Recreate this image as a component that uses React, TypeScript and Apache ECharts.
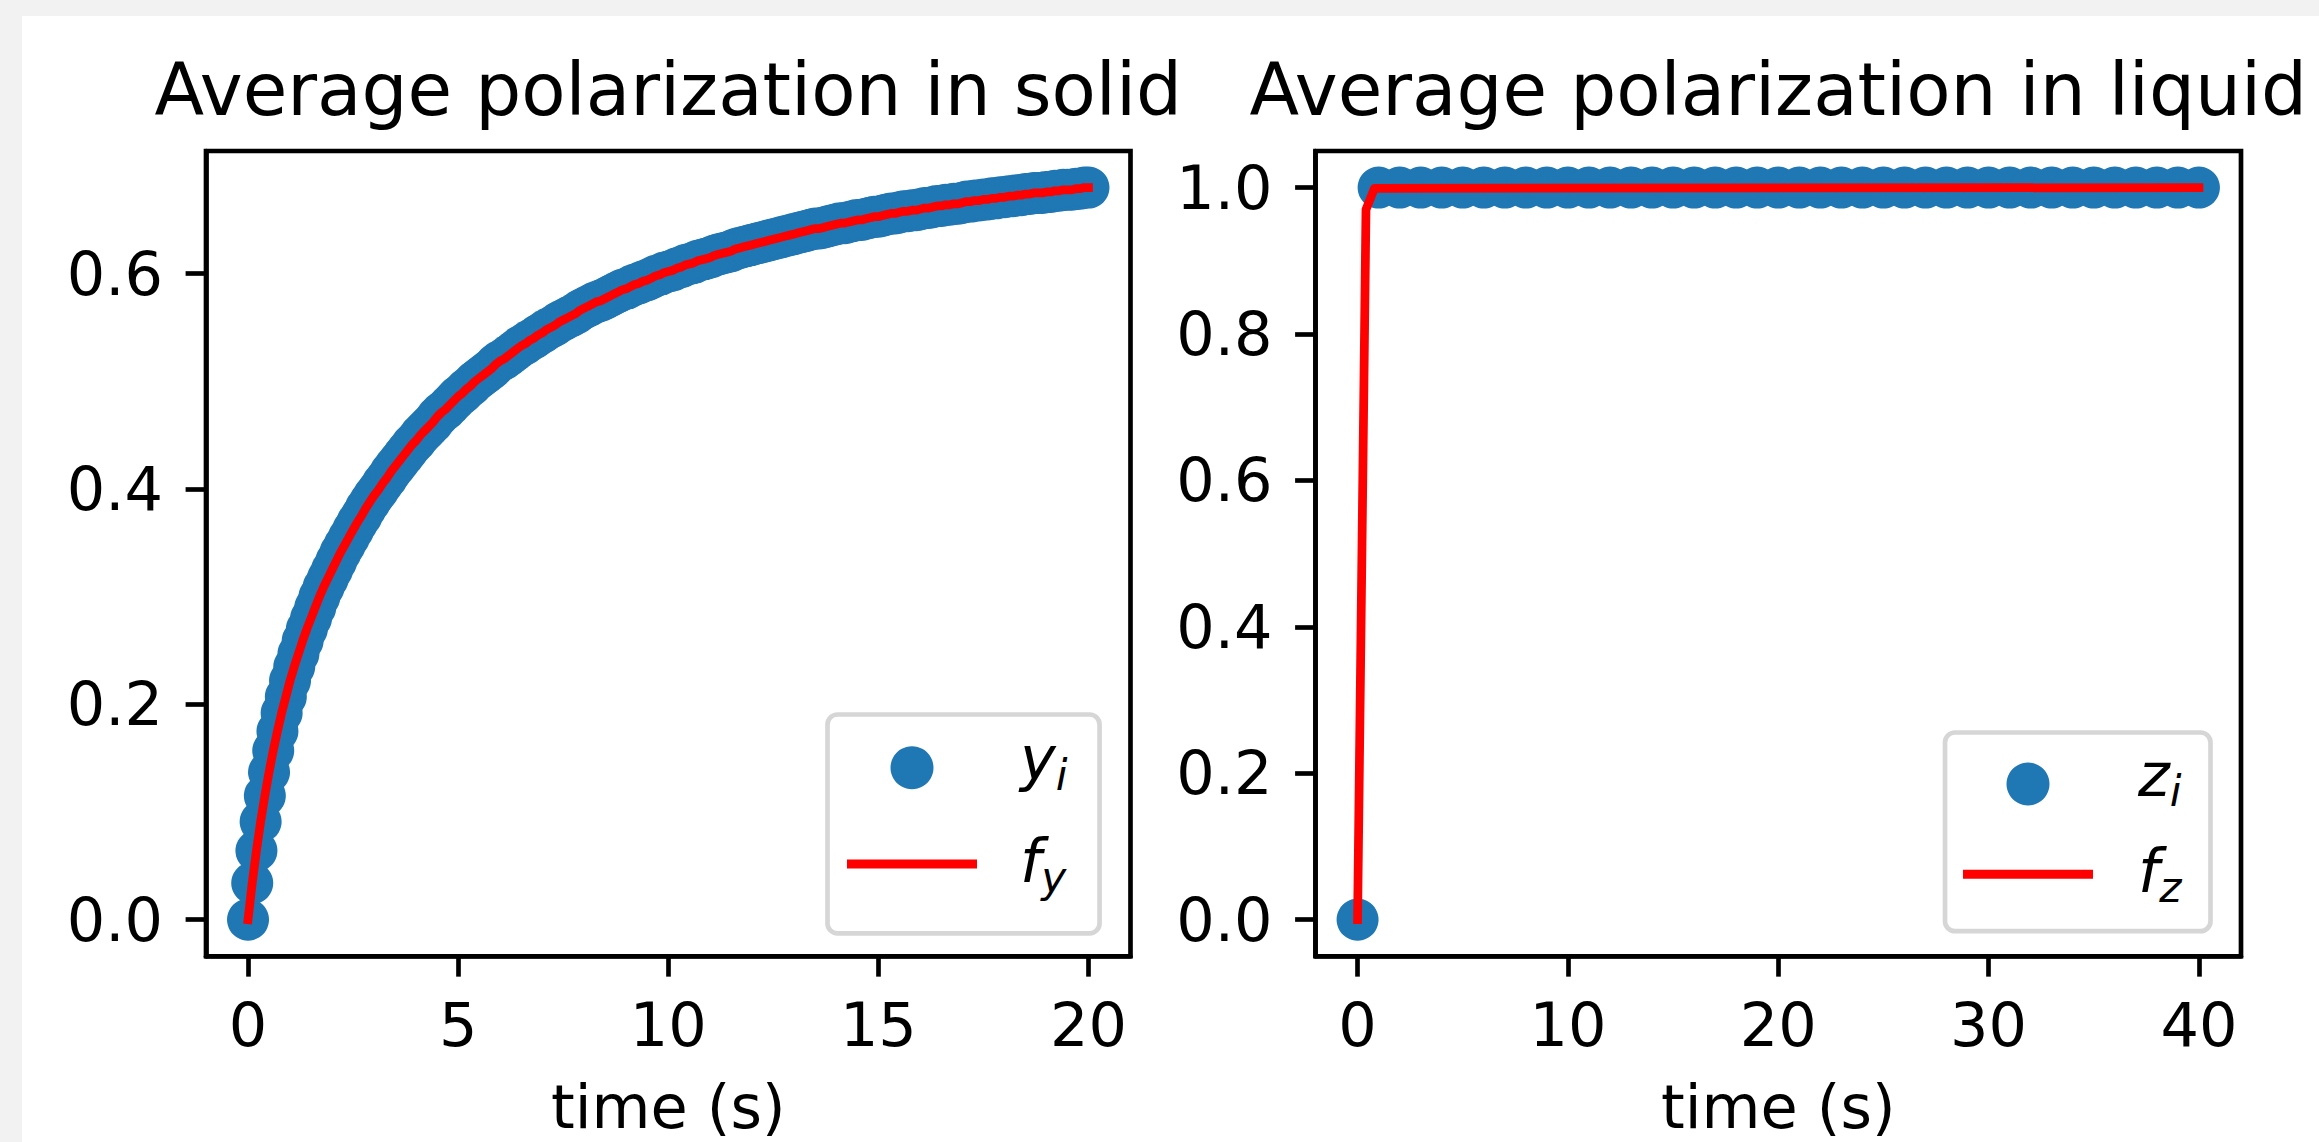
import React, { useEffect, useRef } from "react";
import * as echarts from "echarts";

// ---------- data ----------
const solidTime = [
  0, 0.1, 0.2, 0.3, 0.4, 0.5, 0.6, 0.7, 0.8, 0.9,
  1, 1.1, 1.2, 1.3, 1.4, 1.5, 1.6, 1.7, 1.8, 1.9,
  2, 2.1, 2.2, 2.3, 2.4, 2.5, 2.6, 2.7, 2.8, 2.9,
  3, 3.1, 3.2, 3.3, 3.4, 3.5, 3.6, 3.7, 3.8, 3.9,
  4, 4.1, 4.2, 4.3, 4.4, 4.5, 4.6, 4.7, 4.8, 4.9,
  5, 5.1, 5.2, 5.3, 5.4, 5.5, 5.6, 5.7, 5.8, 5.9,
  6, 6.1, 6.2, 6.3, 6.4, 6.5, 6.6, 6.7, 6.8, 6.9,
  7, 7.1, 7.2, 7.3, 7.4, 7.5, 7.6, 7.7, 7.8, 7.9,
  8, 8.1, 8.2, 8.3, 8.4, 8.5, 8.6, 8.7, 8.8, 8.9,
  9, 9.1, 9.2, 9.3, 9.4, 9.5, 9.6, 9.7, 9.8, 9.9,
  10, 10.1, 10.2, 10.3, 10.4, 10.5, 10.6, 10.7, 10.8, 10.9,
  11, 11.1, 11.2, 11.3, 11.4, 11.5, 11.6, 11.7, 11.8, 11.9,
  12, 12.1, 12.2, 12.3, 12.4, 12.5, 12.6, 12.7, 12.8, 12.9,
  13, 13.1, 13.2, 13.3, 13.4, 13.5, 13.6, 13.7, 13.8, 13.9,
  14, 14.1, 14.2, 14.3, 14.4, 14.5, 14.6, 14.7, 14.8, 14.9,
  15, 15.1, 15.2, 15.3, 15.4, 15.5, 15.6, 15.7, 15.8, 15.9,
  16, 16.1, 16.2, 16.3, 16.4, 16.5, 16.6, 16.7, 16.8, 16.9,
  17, 17.1, 17.2, 17.3, 17.4, 17.5, 17.6, 17.7, 17.8, 17.9,
  18, 18.1, 18.2, 18.3, 18.4, 18.5, 18.6, 18.7, 18.8, 18.9,
  19, 19.1, 19.2, 19.3, 19.4, 19.5, 19.6, 19.7, 19.8, 19.9,
  20,
];

const solidPolarization = [
  0.0, 0.034, 0.064, 0.091, 0.115, 0.137, 0.157, 0.175, 0.192, 0.207,
  0.222, 0.235, 0.247, 0.259, 0.27, 0.28, 0.29, 0.3, 0.309, 0.317,
  0.325, 0.333, 0.341, 0.348, 0.355, 0.362, 0.369, 0.375, 0.382, 0.388,
  0.394, 0.399, 0.405, 0.41, 0.416, 0.421, 0.426, 0.431, 0.436, 0.441,
  0.445, 0.45, 0.454, 0.458, 0.462, 0.467, 0.471, 0.474, 0.478, 0.482,
  0.486, 0.489, 0.493, 0.496, 0.5, 0.503, 0.506, 0.509, 0.512, 0.516,
  0.519, 0.521, 0.524, 0.527, 0.53, 0.533, 0.535, 0.538, 0.54, 0.543,
  0.545, 0.548, 0.55, 0.552, 0.555, 0.557, 0.559, 0.561, 0.563, 0.566,
  0.568, 0.57, 0.572, 0.574, 0.575, 0.577, 0.579, 0.581, 0.583, 0.585,
  0.586, 0.588, 0.59, 0.591, 0.593, 0.594, 0.596, 0.598, 0.599, 0.601,
  0.602, 0.603, 0.605, 0.606, 0.608, 0.609, 0.61, 0.612, 0.613, 0.614,
  0.615, 0.617, 0.618, 0.619, 0.62, 0.621, 0.623, 0.624, 0.625, 0.626,
  0.627, 0.628, 0.629, 0.63, 0.631, 0.632, 0.633, 0.634, 0.635, 0.636,
  0.637, 0.638, 0.639, 0.64, 0.641, 0.642, 0.642, 0.643, 0.644, 0.645,
  0.646, 0.647, 0.647, 0.648, 0.649, 0.65, 0.65, 0.651, 0.652, 0.653,
  0.653, 0.654, 0.655, 0.656, 0.656, 0.657, 0.658, 0.658, 0.659, 0.659,
  0.66, 0.661, 0.661, 0.662, 0.663, 0.663, 0.664, 0.664, 0.665, 0.665,
  0.666, 0.667, 0.667, 0.668, 0.668, 0.669, 0.669, 0.67, 0.67, 0.671,
  0.671, 0.672, 0.672, 0.673, 0.673, 0.674, 0.674, 0.675, 0.675, 0.675,
  0.676, 0.676, 0.677, 0.677, 0.678, 0.678, 0.678, 0.679, 0.679, 0.68,
  0.68,
];

const liquidTime = [
  0, 1, 2, 3, 4, 5, 6, 7, 8, 9, 10, 11, 12, 13, 14, 15, 16, 17, 18, 19, 20,
  21, 22, 23, 24, 25, 26, 27, 28, 29, 30, 31, 32, 33, 34, 35, 36, 37, 38, 39, 40,
];
const liquidPolarization = [
  0, 1, 1, 1, 1, 1, 1, 1, 1, 1, 1, 1, 1, 1, 1, 1, 1, 1, 1, 1, 1,
  1, 1, 1, 1, 1, 1, 1, 1, 1, 1, 1, 1, 1, 1, 1, 1, 1, 1, 1, 1,
];
const liquidFitTime = [0, 0.4, 0.8, 40];
const liquidFitValues = [0, 0.97, 0.999, 1];

const solidTicksX = [0, 5, 10, 15, 20];
const solidTicksY = [0, 0.2, 0.4, 0.6];
const liquidTicksX = [0, 10, 20, 30, 40];
const liquidTicksY = [0, 0.2, 0.4, 0.6, 0.8, 1.0];

const titles = ["Average polarization in solid", "Average polarization in liquid"];
const xAxisLabel = "time (s)";
const seriesNames = ["y_i", "f_y", "z_i", "f_z"];

// ---------- styling ----------
const OX = 22;
const OY = 16;
const FONT = '"DejaVu Sans", sans-serif';
const FS = 60.5;
const TITLE_FS = 72.5;
const SUB_FS = 42.3;
const BLUE = "#1f77b4";
const RED = "#ff0000";
const LINE_ICON = "path://M0,0H130V9H0Z";

const legendRich = {
  m: { fontSize: FS, fontFamily: FONT, fontStyle: "italic", lineHeight: 34.6, height: 34.6, verticalAlign: "top", color: "#000" },
  s: { fontSize: SUB_FS, fontFamily: FONT, fontStyle: "italic", lineHeight: 2, height: 2, verticalAlign: "bottom", color: "#000" },
};

const legendFormatter = (name: string) => {
  const [a, b] = name.split("_");
  return `{m|${a}}{s|${b}}`;
};

function makeXAxis(gridIndex: number, min: number, max: number, ticks: number[]) {
  return {
    gridIndex,
    type: "value",
    min,
    max,
    splitLine: { show: false },
    axisLine: { show: true, onZero: false, lineStyle: { color: "#000", width: 4.67 } },
    axisTick: { show: true, inside: false, length: 20.4, customValues: ticks, lineStyle: { color: "#000", width: 4.67 } },
    axisLabel: {
      customValues: ticks,
      margin: 38,
      color: "#000",
      fontSize: FS,
      fontFamily: FONT,
      lineHeight: FS,
    },
    name: xAxisLabel,
    nameLocation: "middle",
    nameGap: 120,
    nameTextStyle: { color: "#000", fontSize: FS, fontFamily: FONT, lineHeight: FS },
  };
}

function makeYAxis(gridIndex: number, min: number, max: number, ticks: number[]) {
  return {
    gridIndex,
    type: "value",
    min,
    max,
    splitLine: { show: false },
    axisLine: { show: true, onZero: false, lineStyle: { color: "#000", width: 4.67 } },
    axisTick: { show: true, inside: false, length: 20.4, customValues: ticks, lineStyle: { color: "#000", width: 4.67 } },
    axisLabel: {
      customValues: ticks,
      margin: 43,
      color: "#000",
      fontSize: FS,
      fontFamily: FONT,
      lineHeight: FS,
      formatter: (v: number) => v.toFixed(1),
    },
  };
}

function makeLegend(left: number, top: number, gap: number, padding: number[], textLeft: number, names: string[]) {
  return {
    orient: "vertical",
    left: left - OX,
    top: top - OY,
    itemWidth: 130,
    itemHeight: 43,
    itemGap: gap,
    padding,
    backgroundColor: "#fff",
    borderColor: "#d6d6d6",
    borderWidth: 4.67,
    borderRadius: 10,
    selectedMode: false,
    formatter: legendFormatter,
    textStyle: { color: "#000", fontFamily: FONT, fontSize: FS, rich: legendRich },
    data: [
      { name: names[0], icon: "circle", itemStyle: { color: BLUE, borderWidth: 0 }, textStyle: { padding: [0, 0, 17.8, textLeft] } },
      { name: names[1], icon: LINE_ICON, itemStyle: { color: RED, borderWidth: 0 }, textStyle: { padding: [0, 0, 5.8, textLeft] } },
    ],
  };
}

function buildOption() {
  const solidPoints = solidTime.map((t, i) => [t, solidPolarization[i]]);
  const liquidPoints = liquidTime.map((t, i) => [t, liquidPolarization[i]]);
  const liquidFit = liquidFitTime.map((t, i) => [t, liquidFitValues[i]]);

  const titleStyle = { color: "#000", fontSize: TITLE_FS, fontWeight: "normal", fontFamily: FONT };
  const titleY = 115 - 0.346 * TITLE_FS - OY;

  return {
    animation: false,
    backgroundColor: "#ffffff",
    title: [
      { text: titles[0], left: 668.25 - OX, top: titleY, textAlign: "center", textVerticalAlign: "middle", padding: 0, textStyle: titleStyle },
      { text: titles[1], left: 1778.25 - OX, top: titleY, textAlign: "center", textVerticalAlign: "middle", padding: 0, textStyle: titleStyle },
    ],
    grid: [
      { left: 206 - OX, top: 151 - OY, width: 924.5, height: 808, show: true, borderColor: "#000", borderWidth: 4.67, backgroundColor: "#fff", containLabel: false },
      { left: 1315.5 - OX, top: 151 - OY, width: 925.5, height: 808, show: true, borderColor: "#000", borderWidth: 4.67, backgroundColor: "#fff", containLabel: false },
    ],
    xAxis: [makeXAxis(0, -1, 21, solidTicksX), makeXAxis(1, -2, 42, liquidTicksX)],
    yAxis: [makeYAxis(0, -0.034, 0.714, solidTicksY), makeYAxis(1, -0.05, 1.05, liquidTicksY)],
    legend: [
      makeLegend(827.5, 714.5, 35, [14.3, 32, 35, 19.5], 38, [seriesNames[0], seriesNames[1]]),
      makeLegend(1945, 732.5, 29, [12.6, 29, 22.5, 18], 40, [seriesNames[2], seriesNames[3]]),
    ],
    series: [
      {
        name: seriesNames[0],
        type: "scatter",
        xAxisIndex: 0,
        yAxisIndex: 0,
        data: solidPoints,
        symbol: "circle",
        symbolSize: 42,
        itemStyle: { color: BLUE, opacity: 1 },
        silent: true,
        z: 2,
      },
      {
        name: seriesNames[1],
        type: "line",
        xAxisIndex: 0,
        yAxisIndex: 0,
        data: solidPoints,
        showSymbol: false,
        symbol: "none",
        color: RED,
        itemStyle: { color: RED },
        lineStyle: { color: RED, width: 8.75, cap: "square", join: "round" },
        silent: true,
        z: 3,
      },
      {
        name: seriesNames[2],
        type: "scatter",
        xAxisIndex: 1,
        yAxisIndex: 1,
        data: liquidPoints,
        symbol: "circle",
        symbolSize: 42,
        itemStyle: { color: BLUE, opacity: 1 },
        silent: true,
        z: 2,
      },
      {
        name: seriesNames[3],
        type: "line",
        xAxisIndex: 1,
        yAxisIndex: 1,
        data: liquidFit,
        showSymbol: false,
        symbol: "none",
        color: RED,
        itemStyle: { color: RED },
        lineStyle: { color: RED, width: 8.75, cap: "square", join: "round" },
        silent: true,
        z: 3,
      },
    ],
  };
}

export default function App() {
  const ref = useRef<HTMLDivElement>(null);
  useEffect(() => {
    if (!ref.current) return;
    const chart = echarts.init(ref.current, null, { renderer: "svg" });
    chart.setOption(buildOption() as any);
    return () => {
      chart.dispose();
    };
  }, []);
  return (
    <div
      style={{
        position: "fixed",
        left: 0,
        top: 0,
        width: 2319,
        height: 1142,
        background: "#f2f2f2",
        overflow: "hidden",
      }}
    >
      <div
        ref={ref}
        style={{ position: "absolute", left: OX, top: OY, width: 2319 - OX, height: 1142 - OY, background: "#fff" }}
      />
    </div>
  );
}
